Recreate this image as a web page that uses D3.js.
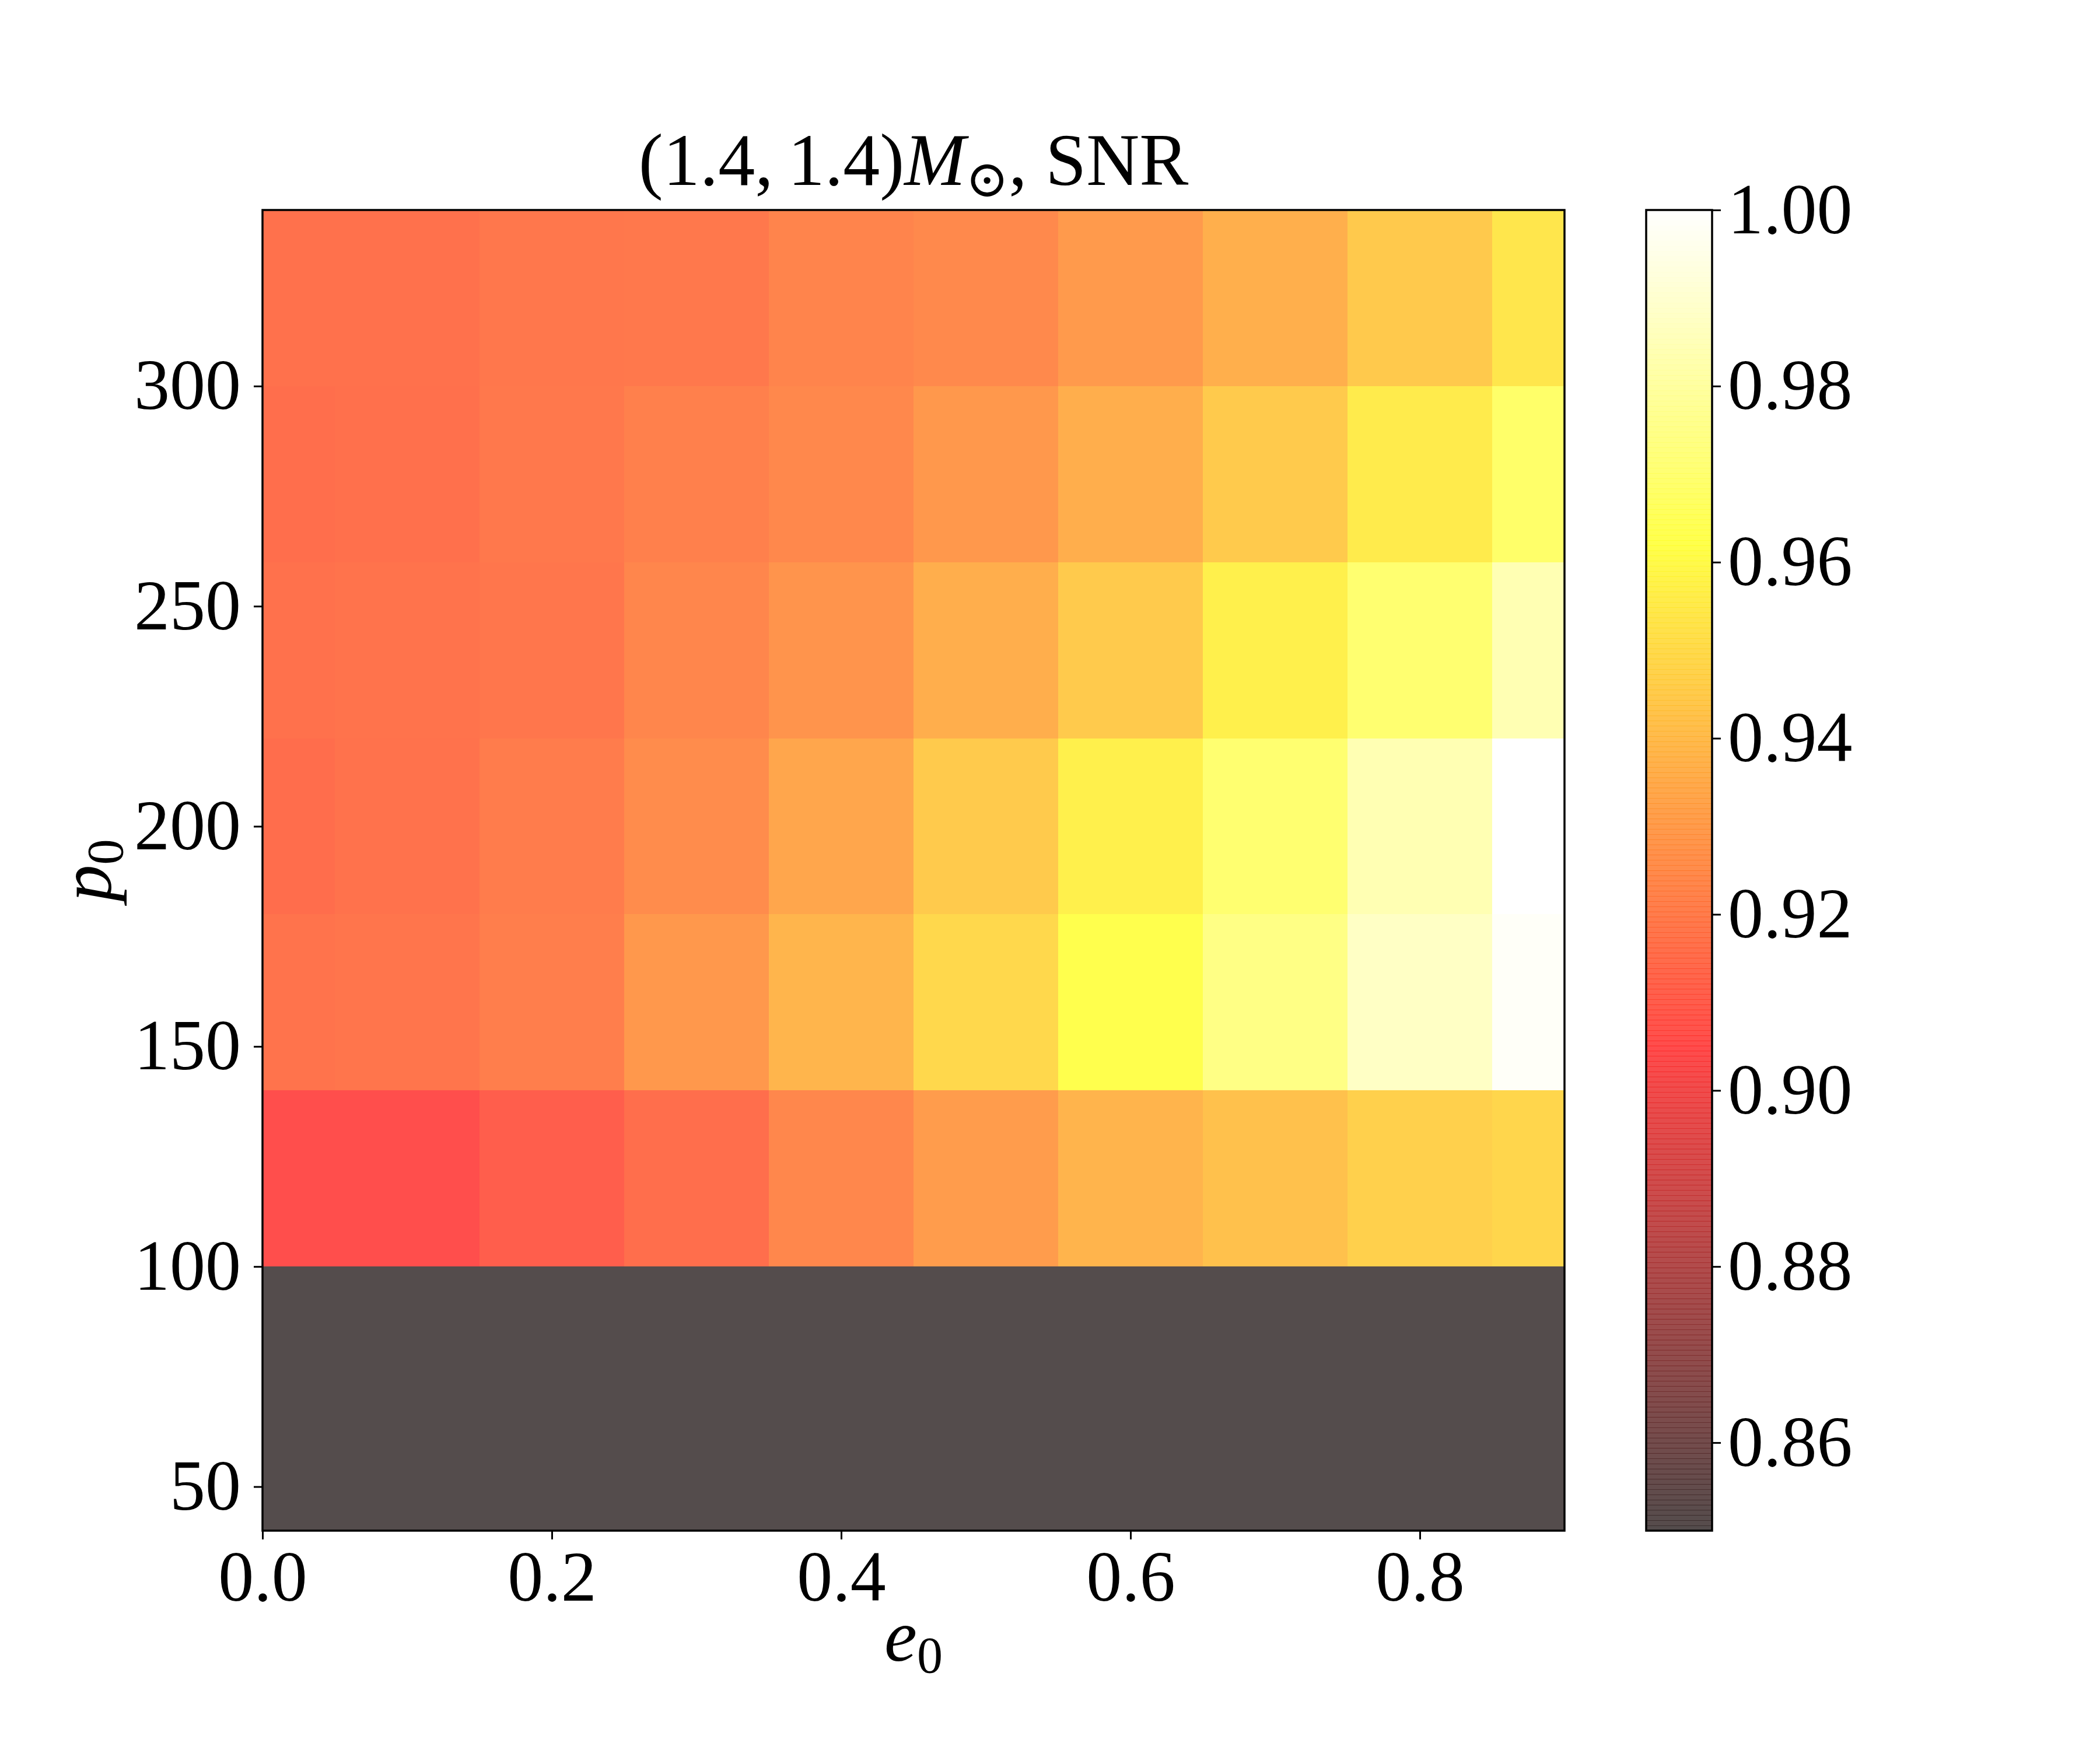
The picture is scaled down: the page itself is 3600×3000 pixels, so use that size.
<!DOCTYPE html>
<html><head><meta charset="utf-8">
<script src="https://cdn.jsdelivr.net/npm/d3@7"></script>
<style>body{margin:0;background:#fff}</style>
</head><body>
<script>
// ---- data ----
const e0Values = [0.0, 0.1, 0.2, 0.3, 0.4, 0.5, 0.6, 0.7, 0.8, 0.9];
const p0Values = [40, 80, 120, 160, 200, 240, 280, 320];
// SNR ratio, one row per p0 (ascending), one column per e0
const snrP40  = [0.85, 0.85, 0.85, 0.85, 0.85, 0.85, 0.85, 0.85, 0.85, 0.85];
const snrP80  = [0.85, 0.85, 0.85, 0.85, 0.85, 0.85, 0.85, 0.85, 0.85, 0.85];
const snrP120 = [0.9055, 0.9055, 0.9104, 0.9158, 0.9235, 0.9302, 0.9379, 0.9421, 0.9469, 0.9488];
const snrP160 = [0.9171, 0.9178, 0.9206, 0.9290, 0.9382, 0.9494, 0.9620, 0.9740, 0.9876, 0.9985];
const snrP200 = [0.9152, 0.9168, 0.9200, 0.9251, 0.9334, 0.9450, 0.9571, 0.9695, 0.9838, 1.0000];
const snrP240 = [0.9165, 0.9174, 0.9181, 0.9232, 0.9277, 0.9360, 0.9450, 0.9571, 0.9695, 0.9838];
const snrP280 = [0.9158, 0.9162, 0.9187, 0.9213, 0.9238, 0.9290, 0.9360, 0.9450, 0.9555, 0.9682];
const snrP320 = [0.9165, 0.9165, 0.9184, 0.9187, 0.9226, 0.9242, 0.9296, 0.9363, 0.9446, 0.9539];
const snrRows = [snrP40, snrP80, snrP120, snrP160, snrP200, snrP240, snrP280, snrP320];
const yTicks = [50, 100, 150, 200, 250, 300];
const xTicks = [0.0, 0.2, 0.4, 0.6, 0.8];
const cbTicks = [0.86, 0.88, 0.90, 0.92, 0.94, 0.96, 0.98, 1.00];
const vmin = 0.85, vmax = 1.0;

// ---- layout ----
const W = 3600, H = 3000;
const L = 450, R = 2682, T = 360, B = 2624;
const CBL = 2822, CBR = 2935;
const FONT = "'Liberation Serif', 'DejaVu Serif', serif";
const FS = 122;

// matplotlib "hot" colormap
function hot(t) {
  t = Math.max(0, Math.min(1, t));
  const r = t < 0.365079 ? 0.0416 + (1 - 0.0416) * t / 0.365079 : 1;
  const g = t < 0.365079 ? 0 : (t < 0.746032 ? (t - 0.365079) / (0.746032 - 0.365079) : 1);
  const b = t < 0.746032 ? 0 : (t - 0.746032) / (1 - 0.746032);
  return d3.rgb(r * 255, g * 255, b * 255).formatHex();
}
const norm = d3.scaleLinear().domain([vmin, vmax]).range([0, 1]).clamp(true);
const color = v => hot(norm(v));

const svg = d3.select("body").append("svg").attr("width", W).attr("height", H)
  .style("font-family", FONT);
svg.append("rect").attr("width", W).attr("height", H).attr("fill", "#fff");

const x = d3.scaleLinear().domain([0, 0.9]).range([L, R]);
const y = d3.scaleLinear().domain([40, 340]).range([B, T]);

const cells = [];
p0Values.forEach((p, i) => e0Values.forEach((e, j) => cells.push({e, p, v: snrRows[i][j]})));

svg.append("g").selectAll("rect").data(cells).join("rect")
  .attr("x", d => x(Math.max(0, d.e - 0.05)))
  .attr("width", d => x(Math.min(0.9, d.e + 0.05)) - x(Math.max(0, d.e - 0.05)))
  .attr("y", d => y(Math.min(340, d.p + 20)))
  .attr("height", d => y(Math.max(40, d.p - 20)) - y(Math.min(340, d.p + 20)))
  .attr("fill", d => color(d.v))
  .attr("fill-opacity", 0.7)
  .attr("shape-rendering", "crispEdges");

// axes
function styleAxis(g) {
  g.select(".domain").remove();
  g.selectAll(".tick line").attr("stroke", "#000").attr("stroke-width", 3);
  g.selectAll(".tick text").attr("font-size", FS).attr("font-family", FONT).attr("fill", "#000");
}
svg.append("g").attr("transform", `translate(${L},0)`)
  .call(d3.axisLeft(y).tickValues(yTicks).tickSize(15).tickPadding(22).tickFormat(d3.format("d")))
  .call(styleAxis);
svg.append("g").attr("transform", `translate(0,${B})`)
  .call(d3.axisBottom(x).tickValues(xTicks).tickSize(15).tickPadding(18).tickFormat(d3.format(".1f")))
  .call(styleAxis);

svg.append("rect").attr("x", L).attr("y", T).attr("width", R - L).attr("height", B - T)
  .attr("fill", "none").attr("stroke", "#000").attr("stroke-width", 3.5);

// colorbar
const cy = d3.scaleLinear().domain([vmin, vmax]).range([B, T]);
const steps = d3.range(256).map(i => vmin + (vmax - vmin) * i / 256);
const dv = (vmax - vmin) / 256;
svg.append("g").selectAll("rect").data(steps).join("rect")
  .attr("x", CBL).attr("width", CBR - CBL)
  .attr("y", d => cy(d + dv))
  .attr("height", d => cy(d) - cy(d + dv) + 0.6)
  .attr("fill", d => color(d + dv / 2))
  .attr("fill-opacity", 0.7);
svg.append("g").attr("transform", `translate(${CBR},0)`)
  .call(d3.axisRight(cy).tickValues(cbTicks).tickSize(15).tickPadding(12).tickFormat(d3.format(".2f")))
  .call(styleAxis);
svg.append("rect").attr("x", CBL).attr("y", T).attr("width", CBR - CBL).attr("height", B - T)
  .attr("fill", "none").attr("stroke", "#000").attr("stroke-width", 3.5);

// title
const title = svg.append("text").attr("x", (L + R) / 2).attr("y", 317)
  .attr("text-anchor", "middle").attr("font-size", FS + 4);
title.append("tspan").text("(1.4,\u20091.4)");
title.append("tspan").attr("font-style", "italic").text("M");
title.append("tspan").attr("font-size", (FS + 4) * 0.7).attr("dy", 20).text("\u2299");
title.append("tspan").attr("dy", -20).text(", SNR");

// x label
const xl = svg.append("text").attr("x", (L + R) / 2).attr("y", 2847)
  .attr("text-anchor", "middle").attr("font-size", FS + 4);
xl.append("tspan").attr("font-style", "italic").text("e");
xl.append("tspan").attr("font-size", (FS + 4) * 0.7).attr("dy", 20).text("0");

// y label
const yl = svg.append("text").attr("transform", `translate(190,${(T + B) / 2}) rotate(-90)`)
  .attr("text-anchor", "middle").attr("font-size", FS + 4);
yl.append("tspan").attr("font-style", "italic").text("p");
yl.append("tspan").attr("font-size", (FS + 4) * 0.7).attr("dy", 20).text("0");
</script>
</body></html>
